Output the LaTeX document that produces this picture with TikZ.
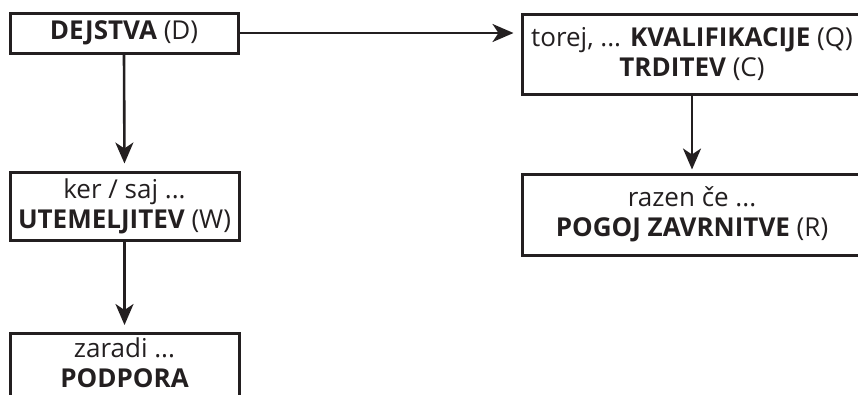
\documentclass[tikz,border=0pt]{standalone}
\usepackage{fontspec}
\setmainfont{Open Sans}
\usetikzlibrary{arrows.meta}
\definecolor{ink}{HTML}{231F20}
\begin{document}
\begin{tikzpicture}[x=1pt,y=-1pt,
  box/.style={draw=ink, line width=3pt, text=ink, align=center, inner sep=0pt,
    font=\fontsize{26}{30}\selectfont},
  conn/.style={draw=ink, line width=2.6pt,
    -{Stealth[length=21pt,width=18pt,inset=6pt]}, shorten >=7pt}]
\useasboundingbox (0,0) rectangle (858,394);
\begin{scope}
\clip (0,0) rectangle (858,394);
\node[box, minimum width=228pt, minimum height=40pt] (D) at (124,33) {\textbf{DEJSTVA} (D)};
\node[box, minimum width=340pt, minimum height=80pt] (Q) at (692,54) {torej, ... \textbf{KVALIFIKACIJE} (Q)\\\textbf{TRDITEV} (C)};
\node[box, minimum width=229pt, minimum height=68pt] (W) at (124.5,206) {ker / saj ...\\\textbf{UTEMELJITEV} (W)};
\node[box, minimum width=340pt, minimum height=81pt] (R) at (692,214.5) {razen če ...\\\textbf{POGOJ ZAVRNITVE} (R)};
\node[box, minimum width=229pt, anchor=north, inner ysep=4pt, text depth=40pt] (P) at (124.5,332) {zaradi ...\\\textbf{PODPORA}};
\draw[conn] (D.south) -- (W.north);
\draw[conn] (W.south) -- (P.north);
\draw[conn] (D.east) -- (D.east -| Q.west);
\draw[conn, shorten >=3pt] (Q.south) -- (R.north);
\end{scope}
\end{tikzpicture}
\end{document}
